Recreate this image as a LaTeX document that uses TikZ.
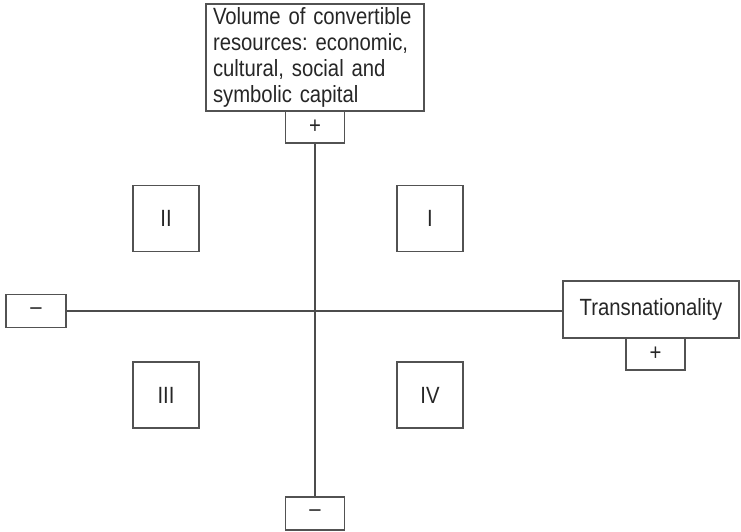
\documentclass[tikz,border=0pt]{standalone}
\usepackage{fontspec}
\setmainfont[FakeStretch=0.865]{Liberation Sans}
\frenchspacing
\begin{document}
\begin{tikzpicture}[x=0.75pt,y=-0.75pt,
  every node/.style={font=\fontsize{17.6}{19.5}\selectfont, text=black!85},
  box/.style={draw=black!68, line width=1.1pt, rectangle, inner sep=0pt},
  signbox/.style={box, minimum width=59*0.75pt, minimum height=32*0.75pt},
  quad/.style={box, minimum width=66*0.75pt, minimum height=66*0.75pt},
  axis/.style={draw=black!70, line width=1.4pt}]
\useasboundingbox (0,0) rectangle (741,531);
\node[box, text width=204*0.75pt, align=left, minimum height=107*0.75pt, inner xsep=7.2*0.75pt] (vol) at (315,57.5)
  {\frenchspacing Volume of convertible\\ resources: economic,\\ cultural, social and\\ symbolic capital};
\node[signbox] (topplus) at (315,127) {+};
\node[signbox, minimum height=33*0.75pt] (botminus) at (315,513.5) {--};
\node[signbox, minimum width=60*0.75pt, minimum height=33*0.75pt] (leftminus) at (36,311) {--};
\node[box, minimum width=176*0.75pt, minimum height=57*0.75pt] (trans) at (651,309.5) {Transnationality};
\node[signbox] (transplus) at (655.5,354) {+};
\node[quad] (q2) at (166,218.5) {II};
\node[quad] (q1) at (430,218.5) {I};
\node[quad] (q3) at (166,395) {III};
\node[quad] (q4) at (430,395) {IV};
\draw[axis] (topplus.south) -- (botminus.north);
\draw[axis] (leftminus.east) -- (leftminus.east -| trans.west);
\end{tikzpicture}
\end{document}
